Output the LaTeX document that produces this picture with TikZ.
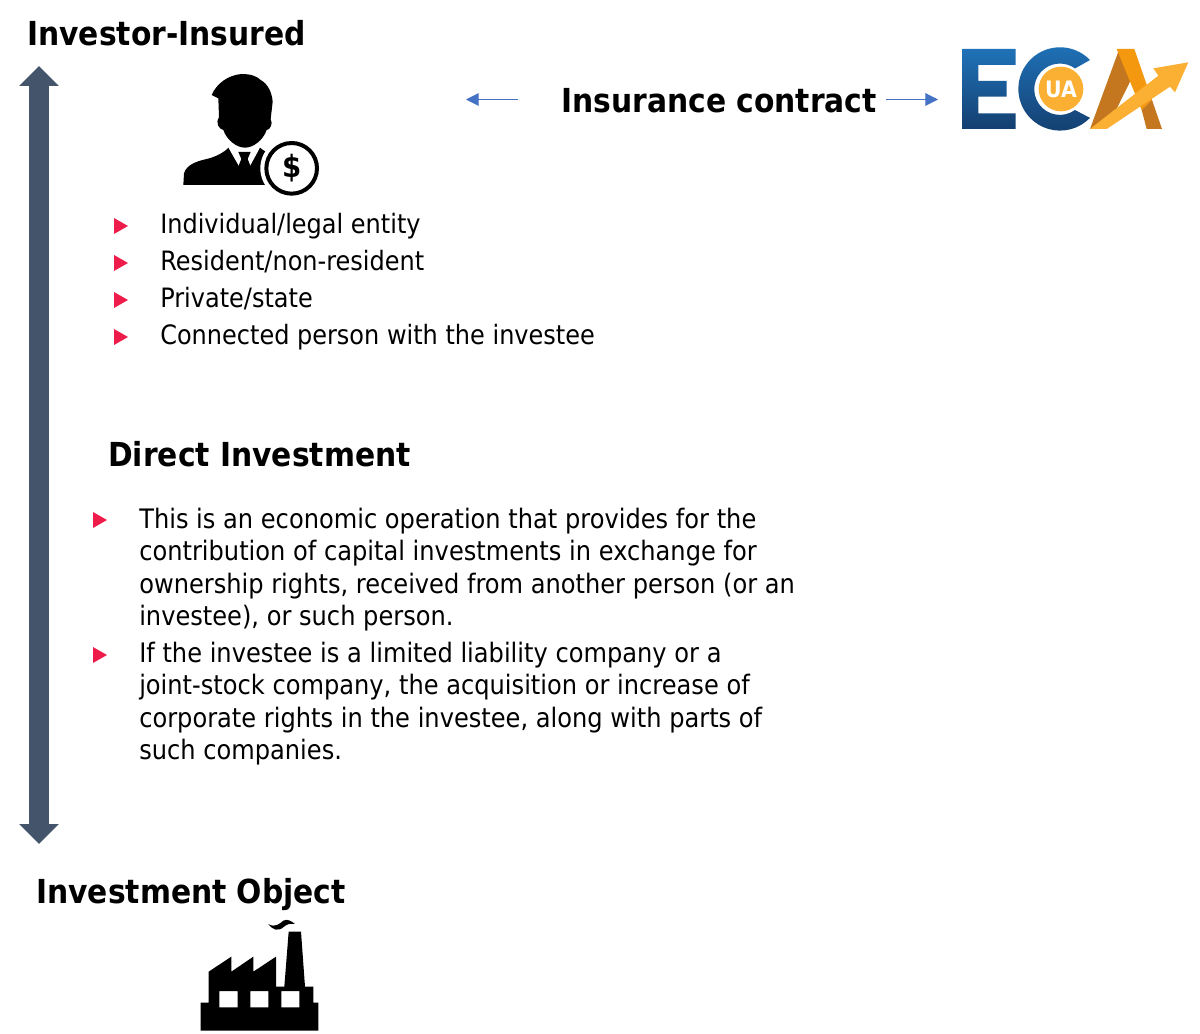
\documentclass[tikz,border=0pt]{standalone}
\usepackage{fontspec}
\setmainfont[FakeStretch=0.9]{DejaVu Sans}
\usetikzlibrary{arrows.meta,calc}
\definecolor{slatebar}{HTML}{44546A}
\definecolor{linkblue}{HTML}{4472C4}
\definecolor{bulletred}{HTML}{EE1C4A}
\definecolor{ecatop}{HTML}{1F72B8}
\definecolor{ecabot}{HTML}{143F70}
\definecolor{ecaorange}{HTML}{FBB034}
\definecolor{ecaamber}{HTML}{F3980F}
\definecolor{ecabrown}{HTML}{C4771F}
\tikzset{
  headtext/.style={anchor=base west,inner sep=0pt,font=\bfseries\fontsize{24.8pt}{30pt}\selectfont},
  itemtext/.style={anchor=base west,inner sep=0pt,font=\fontsize{20pt}{24pt}\selectfont},
  paratext/.style={anchor=north west,inner sep=0pt,align=left,font=\fontsize{20.1pt}{24.2pt}\selectfont},
  bulletmark/.style={fill=bulletred,draw=none},
  linkarrow/.style={draw=linkblue,line width=0.8pt,-{Triangle[length=9.5pt,width=9.5pt]}},
  bigarrow/.style={draw=slatebar,line width=15pt,{Triangle[length=15pt,width=29pt]}-{Triangle[length=15pt,width=29pt]}},
  icon/.style={fill=black,draw=none},
}
\newcommand{\bulletat}[2]{\fill[bulletmark] (#1,#2-8) -- (#1+14,#2) -- (#1,#2+8) -- cycle;}
\begin{document}
\begin{tikzpicture}[x=0.75pt,y=-0.75pt]
\useasboundingbox (0,0) rectangle (1200,1034);
% headings
\node[headtext] (insured) at (27,46) {Investor-Insured};
\node[headtext] (contract) at (561,113) {Insurance contract};
\node[headtext] (direct) at (108,466) {Direct Investment};
\node[headtext] (object) at (36,903) {Investment Object};
% big double arrow
\coordinate (bartop) at (39,66);
\coordinate (barbot) at (39,844);
\draw[bigarrow] (bartop) -- (barbot);
% contract arrows
\coordinate (leftend) at (466,99.5);
\coordinate (leftstart) at (518,99.5);
\coordinate (rightstart) at (886,99.5);
\coordinate (logoedge) at (938,99.5);
\draw[linkarrow] (leftstart) -- (leftend);
\draw[linkarrow] (rightstart) -- (logoedge);
% list
\bulletat{114}{226}\node[itemtext] (i1) at (160,234) {Individual/legal entity};
\bulletat{114}{263}\node[itemtext] (i2) at (160,271) {Resident/non-resident};
\bulletat{114}{300}\node[itemtext] (i3) at (160,308) {Private/state};
\bulletat{114}{337}\node[itemtext] (i4) at (160,345) {Connected person with the investee};
\bulletat{93}{520}
\node[paratext] (p1) at (139,508) {This is an economic operation that provides for the\\contribution of capital investments in exchange for\\ownership rights, received from another person (or an\\investee), or such person.};
\bulletat{93}{655}
\node[paratext] (p2) at (139,642) {If the investee is a limited liability company or a\\joint-stock company, the acquisition or increase of\\corporate rights in the investee, along with parts of\\such companies.};
% person icon
\begin{scope}[shift={(170,60)},x=0.25pt,y=-0.25pt]
\fill[icon] (125,105) .. controls (140,70) and (175,45) .. (215,42) .. controls (245,42) and (262,50) .. (272,60) .. controls (295,72) and (306,100) .. (308,125) -- (302,178) .. controls (310,190) and (300,210) .. (290,210) .. controls (280,240) and (250,263) .. (225,263) .. controls (200,263) and (170,240) .. (160,210) .. controls (148,208) and (135,190) .. (147,172) -- (145,115) -- cycle;
\fill[icon] (40,375) -- (42,340) .. controls (50,315) and (75,305) .. (110,297) .. controls (140,290) and (165,275) .. (175,263) -- (222,345) -- (270,263) .. controls (280,272) and (295,280) .. (310,285) -- (310,375) -- cycle;
\fill[white] (178,266) -- (224,348) -- (268,266) -- (240,272) -- (205,272) -- cycle;
\fill[icon] (205,276) -- (242,276) -- (233,297) -- (247,332) -- (224,352) -- (200,332) -- (214,297) -- cycle;
\fill[white] (365,325) circle[radius=23.5pt];
\node[circle,draw=black,fill=white,line width=3pt,minimum size=38pt,inner sep=0pt,font=\bfseries\fontsize{23pt}{24pt}\selectfont] (dollar) at (365,325) {\raisebox{-1.5pt}{\$}};
\end{scope}
% logo
\begin{scope}[shift={(950,35)},x=0.25pt,y=-0.25pt]
\shade[top color=ecatop,bottom color=ecabot] (38,42) -- (197,42) -- (197,90) -- (85,90) -- (85,138) -- (170,138) -- (170,185) -- (85,185) -- (85,235) -- (197,235) -- (197,282) -- (38,282) -- cycle;
\shade[top color=ecatop,bottom color=ecabot] (420,75) arc[start angle=44,end angle=316,radius=31.25pt] -- (375,225) arc[start angle=-54,end angle=-306,radius=19.25pt] -- cycle;
\node[circle,fill=ecaorange,minimum size=33.5pt,inner sep=0pt,text=white,font=\bfseries\fontsize{17pt}{18pt}\selectfont] (ua) at (333,162) {UA};
\fill[ecabrown] (420,282) -- (505,50) -- (545,130) -- (470,282) -- cycle;
\fill[ecaamber] (500,42) -- (553,42) -- (606,195) -- (575,225) -- cycle;
\fill[ecabrown] (575,225) -- (606,195) -- (636,282) -- (590,282) -- cycle;
\fill[ecaorange] (420,282) -- (625,122) -- (610,100) -- (715,82) -- (675,172) -- (660,155) -- (470,282) -- cycle;
\end{scope}
% factory icon
\begin{scope}[shift={(190,910)},x=0.25pt,y=-0.25pt]
\fill[icon,even odd rule] (32,362) -- (32,278) -- (56,278) -- (56,185) -- (124,140) -- (124,185) -- (190,140) -- (190,185) -- (258,140) -- (258,230) -- (283,230) -- (296,65) -- (333,65) -- (345,230) -- (370,230) -- (370,278) -- (385,278) -- (385,362) -- cycle
 (88,243) rectangle (143,292) (181,243) rectangle (235,292) (274,243) rectangle (328,292);
\fill[icon] (235,42) .. controls (255,54) and (268,42) .. (280,32) .. controls (292,25) and (305,34) .. (315,42) .. controls (300,40) and (292,42) .. (282,50) .. controls (265,66) and (248,60) .. (235,42) -- cycle;
\end{scope}
\end{tikzpicture}
\end{document}
